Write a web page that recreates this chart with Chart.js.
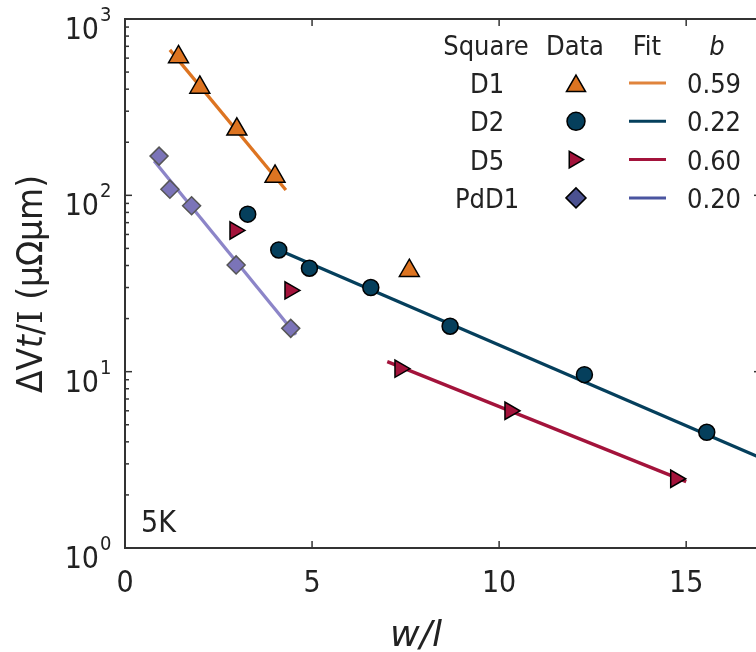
<!DOCTYPE html>
<html>
<head>
<meta charset="utf-8">
<script src="https://cdn.jsdelivr.net/npm/chart.js@4/dist/chart.umd.min.js"></script>
<style>
  html, body { margin: 0; padding: 0; background: #fff; }
  #clip { width: 756px; height: 652px; overflow: hidden; position: relative; }
  #wrap { width: 800px; height: 652px; position: absolute; left: 0; top: 0; }
</style>
</head>
<body>
<div id="clip"><div id="wrap"><canvas id="chart"></canvas></div></div>
<script>
// data
const d1X  = [1.43, 2.0, 2.99, 4.01, 7.6];
const d1Y  = [609, 409, 237, 128, 37.4];
const d2X  = [3.28, 4.11, 4.93, 6.57, 8.69, 12.28, 15.55];
const d2Y  = [78.2, 49.0, 38.6, 30.0, 18.1, 9.62, 4.53];
const d5X  = [2.94, 4.41, 7.35, 10.29, 14.72];
const d5Y  = [63.2, 28.9, 10.4, 6.0, 2.47];
const pdX  = [0.91, 1.2, 1.78, 2.97, 4.43];
const pdY  = [166.9, 108.4, 87.3, 40.3, 17.6];

// fitted lines (end points)
const d1FitX = [1.2, 4.3];    const d1FitY = [668, 107.3];
const d2FitX = [4.11, 17];    const d2FitY = [49.0, 3.24];
const d5FitX = [7.01, 15.0];  const d5FitY = [11.4, 2.38];
const pdFitX = [0.78, 4.57];  const pdFitY = [156.7, 16.2];

const xTicks   = [0, 5, 10, 15];
const yDecades = [0, 1, 2, 3];
const squares  = ['D1', 'D2', 'D5', 'PdD1'];
const bValues  = ['0.59', '0.22', '0.60', '0.20'];

const ORANGE = '#dd7421', TEAL = '#053f5c', RED = '#a3133b', LAV = '#7b74b8', LAVLINE = '#8c85c8';
const AXIS = '#333333', TXT = '#222222';
const FONT = "'DejaVu Sans Condensed', 'DejaVu Sans', sans-serif";

const pts = (xs, ys) => xs.map((v, i) => ({ x: v, y: ys[i] }));

const legendRows = [
  { style: 'triangle', rot: 0,  r: 11, fill: ORANGE, edge: '#000', line: '#e0843c' },
  { style: 'circle',   rot: 0,  r: 9,  fill: TEAL,   edge: '#000', line: TEAL },
  { style: 'triangle', rot: 90, r: 9.5, fill: RED,   edge: '#000', line: RED },
  { style: 'rectRot',  rot: 0,  r: 10, fill: '#4b5190', edge: '#000', line: '#4a55a0' },
];

const decor = {
  id: 'decor',
  afterDraw(chart) {
    const { ctx, chartArea: a, scales: { x, y } } = chart;
    const seg = (x1, y1, x2, y2) => { ctx.beginPath(); ctx.moveTo(x1, y1); ctx.lineTo(x2, y2); ctx.stroke(); };
    ctx.save();
    ctx.strokeStyle = AXIS;
    ctx.lineWidth = 2;
    ctx.strokeRect(a.left, a.top, a.right - a.left, a.bottom - a.top);
    ctx.lineWidth = 1.5;
    // x ticks, inward on bottom and top
    xTicks.forEach(v => {
      const px = x.getPixelForValue(v);
      seg(px, a.bottom, px, a.bottom - 7);
      seg(px, a.top, px, a.top + 7);
    });
    // y major + minor ticks
    yDecades.forEach(d => {
      const base = Math.pow(10, d);
      const py = y.getPixelForValue(base);
      seg(a.left, py, a.left + 7, py);
      seg(a.right, py, a.right - 7, py);
      if (d < 3) {
        for (let m = 2; m <= 9; m++) {
          const pm = y.getPixelForValue(base * m);
          seg(a.left, pm, a.left + 4, pm);
          seg(a.right, pm, a.right - 4, pm);
        }
      }
    });

    ctx.fillStyle = TXT;
    ctx.textBaseline = 'alphabetic';
    // x tick labels
    ctx.font = '30px ' + FONT;
    ctx.textAlign = 'center';
    xTicks.forEach(v => ctx.fillText(String(v), x.getPixelForValue(v), 592));
    // y tick labels 10^n
    yDecades.forEach(d => {
      const py = y.getPixelForValue(Math.pow(10, d));
      ctx.font = '30px ' + FONT;
      ctx.textAlign = 'right';
      ctx.fillText('10', a.left - 26, py + 20);
      ctx.font = '20px ' + FONT;
      ctx.textAlign = 'left';
      ctx.fillText(String(d), a.left - 25, py + 2);
    });

    // x title
    ctx.font = 'italic 36px ' + FONT;
    ctx.textAlign = 'center';
    ctx.save();
    ctx.translate(416, 646);
    ctx.scale(1.12, 1);
    ctx.fillText('w/l', 0, 0);
    ctx.restore();

    // y title, rotated, with italic t
    ctx.save();
    ctx.translate(42, 284);
    ctx.rotate(-Math.PI / 2);
    const parts = [
      ['ΔV', '35px ' + FONT],
      ['t', 'italic 35px ' + FONT],
      ['/', '35px ' + FONT],
      ['I', "33px 'DejaVu Serif', serif"],
      [' (μΩμm)', '35px ' + FONT],
    ];
    let total = 0;
    parts.forEach(p => { ctx.font = p[1]; total += ctx.measureText(p[0]).width; });
    ctx.scale(218 / total, 1);
    let cx = -total / 2;
    ctx.textAlign = 'left';
    parts.forEach(p => { ctx.font = p[1]; ctx.fillText(p[0], cx, 0); cx += ctx.measureText(p[0]).width; });
    ctx.restore();

    // 5K label
    ctx.font = '30px ' + FONT;
    ctx.textAlign = 'left';
    ctx.fillText('5K', 141, 532);

    // legend table
    ctx.font = '27px ' + FONT;
    ctx.textAlign = 'center';
    ctx.fillText('Square', 486, 55);
    ctx.fillText('Data', 575, 55);
    ctx.fillText('Fit', 647, 55);
    ctx.font = 'italic 27px ' + FONT;
    ctx.fillText('b', 717, 55);
    squares.forEach((s, i) => {
      const base = 93 + i * 38.3;
      const mid = base - 10;
      const row = legendRows[i];
      ctx.font = '27px ' + FONT;
      ctx.textAlign = 'center';
      ctx.fillStyle = TXT;
      ctx.fillText(s, 487, base);
      ctx.textAlign = 'left';
      ctx.fillText(bValues[i], 687, base);
      ctx.strokeStyle = row.line;
      ctx.lineWidth = 3;
      seg(629, mid, 666, mid);
      ctx.fillStyle = row.fill;
      ctx.strokeStyle = row.edge;
      ctx.lineWidth = 1.5;
      const yOff = row.style === 'triangle' && row.rot === 0 ? 3 : 0;
      const xOff = row.rot === 90 ? -2 : 0;
      Chart.helpers.drawPoint(ctx, { pointStyle: row.style, radius: row.r, rotation: row.rot, borderWidth: 1.5 }, 576 + xOff, mid + yOff);
    });
    ctx.restore();
  }
};

const fitLine = (xs, ys, color) => ({
  data: pts(xs, ys), showLine: true, borderColor: color, borderWidth: 3.3,
  pointRadius: 0, order: 1, fill: false,
});
const marks = (xs, ys, style, r, fill, edge, rot) => ({
  data: pts(xs, ys), showLine: false, pointStyle: style, pointRadius: r,
  pointRotation: rot || 0, backgroundColor: fill, borderColor: edge,
  borderWidth: 1.5, order: 0,
});

new Chart(document.getElementById('chart'), {
  type: 'scatter',
  data: {
    datasets: [
      fitLine(d1FitX, d1FitY, ORANGE),
      fitLine(d2FitX, d2FitY, TEAL),
      fitLine(d5FitX, d5FitY, RED),
      fitLine(pdFitX, pdFitY, LAVLINE),
      marks(d1X, d1Y, 'triangle', 11.5, ORANGE, '#000'),
      marks(d2X, d2Y, 'circle', 8, TEAL, '#000'),
      marks(d5X, d5Y, 'triangle', 10, RED, '#000', 90),
      marks(pdX, pdY, 'rectRot', 9, LAV, '#555'),
    ],
  },
  options: {
    responsive: true,
    maintainAspectRatio: false,
    animation: false,
    events: [],
    layout: { padding: { left: 0, right: 39, top: 19, bottom: 0 } },
    plugins: { legend: { display: false }, tooltip: { enabled: false } },
    scales: {
      x: {
        type: 'linear', min: 0, max: 17,
        grid: { display: false }, border: { display: false },
        ticks: { display: false },
        afterFit: s => { s.height = 104; },
      },
      y: {
        type: 'logarithmic', min: 1, max: 1000,
        grid: { display: false }, border: { display: false },
        ticks: { display: false },
        afterFit: s => { s.width = 125; },
      },
    },
  },
  plugins: [decor],
});
</script>
</body>
</html>
